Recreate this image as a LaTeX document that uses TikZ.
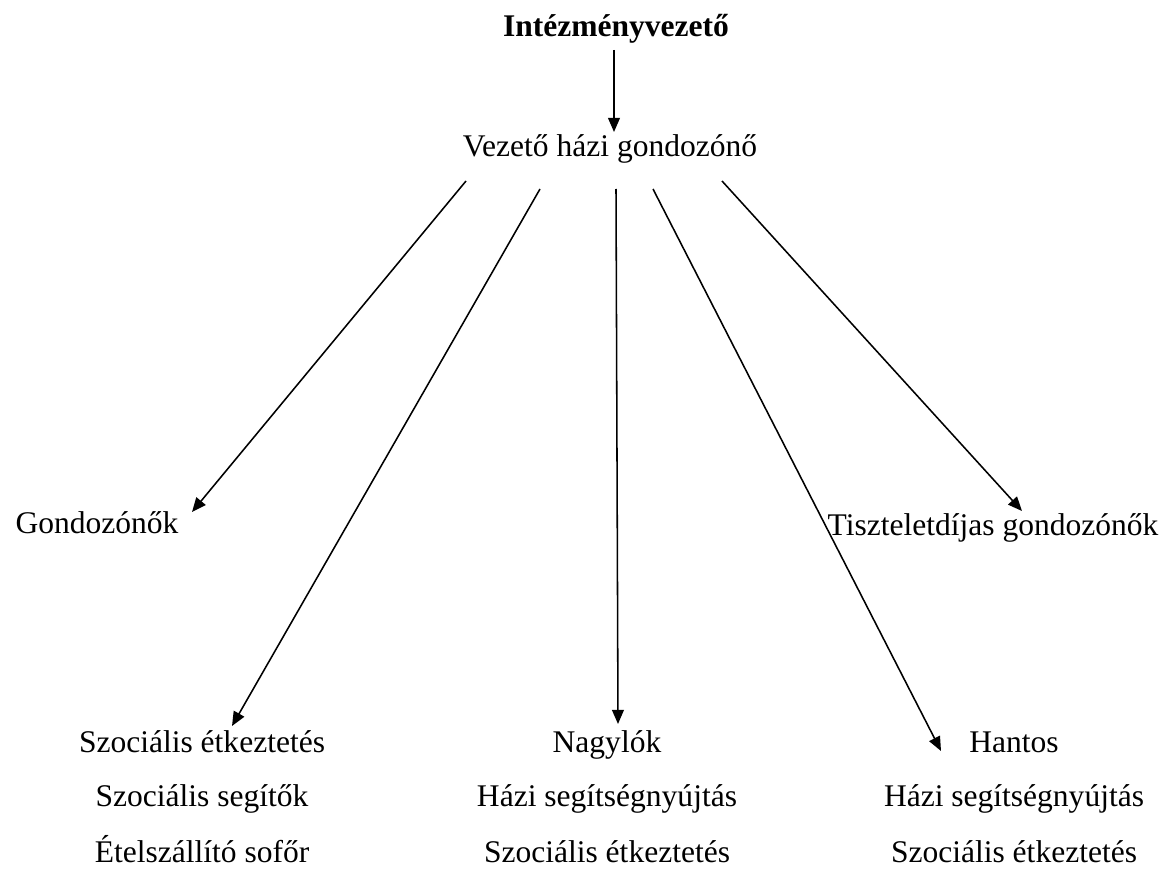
\documentclass[tikz,border=0pt]{standalone}
\usepackage{fontspec}
\setmainfont{Liberation Serif}
\usetikzlibrary{arrows.meta}
\begin{document}
\begin{tikzpicture}[x=0.387pt,y=-0.387pt,
  lbl/.style={anchor=base,inner sep=0pt,font=\fontsize{12.2}{14}\selectfont},
  conn/.style={line width=0.6pt,-{Triangle[length=5.5pt,width=4.6pt]}}]
\useasboundingbox (0,0) rectangle (1168,869);
% nodes
\node[lbl,font=\fontsize{12.2}{14}\selectfont\bfseries] (top) at (616,37) {Intézményvezető};
\node[lbl] (vez) at (610,157) {Vezető házi gondozónő};
\node[lbl] (gond) at (97,533) {Gondozónők};
\node[lbl] (tisz) at (993,535) {Tiszteletdíjas gondozónők};
\node[lbl] (a1) at (202,752) {Szociális étkeztetés};
\node[lbl] (a2) at (202,806) {Szociális segítők};
\node[lbl] (a3) at (202,862) {Ételszállító sofőr};
\node[lbl] (b1) at (607,752) {Nagylók};
\node[lbl] (b2) at (607,806) {Házi segítségnyújtás};
\node[lbl] (b3) at (607,862) {Szociális étkeztetés};
\node[lbl] (c1) at (1014,752) {Hantos};
\node[lbl] (c2) at (1014,806) {Házi segítségnyújtás};
\node[lbl] (c3) at (1014,862) {Szociális étkeztetés};
% connector ends
\coordinate (t0) at (614,50);
\coordinate (t1) at (614,132);
\coordinate (s1) at (466,181);
\coordinate (e1) at (192,512);
\coordinate (s2) at (540,189);
\coordinate (e2) at (232,726);
\coordinate (s3) at (616,189);
\coordinate (e3) at (618,724);
\coordinate (s4) at (653,189);
\coordinate (e4) at (941,751);
\coordinate (s5) at (722,181);
\coordinate (e5) at (1022,511);
% connectors
\draw[conn] (t0) -- (t1);
\draw[conn] (s1) -- (e1);
\draw[conn] (s2) -- (e2);
\draw[conn] (s3) -- (e3);
\draw[conn] (s4) -- (e4);
\draw[conn] (s5) -- (e5);
\end{tikzpicture}
\end{document}
